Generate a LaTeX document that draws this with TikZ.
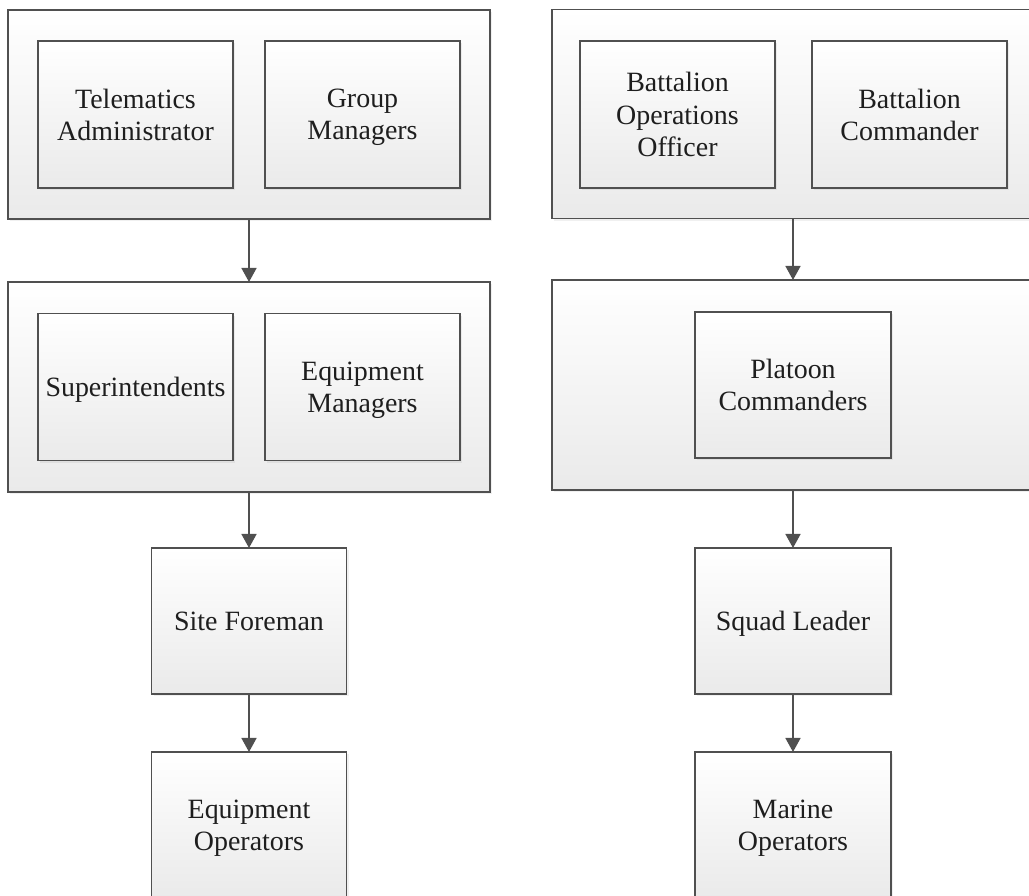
\documentclass[tikz,border=0pt]{standalone}
\usepackage{fontspec}
\setmainfont{Liberation Serif}
\usetikzlibrary{arrows.meta,shadows}
\definecolor{edgegray}{HTML}{505050}
\definecolor{boxbottom}{HTML}{EAEAEA}
\definecolor{txt}{HTML}{1E1E1E}
\tikzset{
  base/.style={rectangle, draw=edgegray, line width=1.1pt, top color=white, bottom color=boxbottom,
    drop shadow={opacity=0.12, shadow xshift=1.2pt, shadow yshift=-1.2pt},
    inner sep=0pt, outer sep=0pt, text=txt, align=center,
    font=\fontsize{15.9}{18.4}\selectfont,
    execute at begin node={\rule{0pt}{0.69em}}, text depth=0pt},
  container/.style={base, minimum width=482*0.02cm, minimum height=209*0.02cm},
  role/.style={base, minimum width=195*0.02cm, minimum height=147*0.02cm},
  link/.style={draw=edgegray, line width=1.1pt, -{Triangle[width=8.5pt,length=8pt]}}
}
\begin{document}
\begin{tikzpicture}[x=0.02cm, y=-0.02cm]
\useasboundingbox (0,0) rectangle (1029,896);
\clip (0,0) rectangle (1029,896);
% left column
\node[container] (tc) at (249,114.5) {};
\node[role] (tel) at (135.5,114.5) {Telematics\\Administrator};
\node[role] (gm) at (362.5,114.5) {Group\\Managers};
\node[container, minimum height=210*0.02cm] (sc) at (249,387) {};
\node[role] (sup) at (135.5,387) {Superintendents};
\node[role] (em) at (362.5,387) {Equipment\\Managers};
\node[role, minimum height=146*0.02cm] (sf) at (249,621) {Site Foreman};
\node[role, minimum height=146*0.02cm] (eo) at (249,825) {Equipment\\Operators};
% right column
\node[container] (rc) at (793,114) {};
\node[role] (boo) at (677.5,114.5) {Battalion\\Operations\\Officer};
\node[role] (bc) at (909.5,114.5) {Battalion\\Commander};
\node[container, minimum height=210*0.02cm] (pc) at (793,385) {};
\node[role, minimum width=196*0.02cm, minimum height=146*0.02cm] (plc) at (793,385) {Platoon\\Commanders};
\node[role, minimum width=196*0.02cm, minimum height=146*0.02cm] (sl) at (793,621) {Squad Leader};
\node[role, minimum width=196*0.02cm, minimum height=146*0.02cm] (mo) at (793,825) {Marine\\Operators};
% connectors
\draw[link] (tc.south) -- (sc.north);
\draw[link] (sc.south) -- (sf.north);
\draw[link] (sf.south) -- (eo.north);
\draw[link] (rc.south) -- (pc.north);
\draw[link] (pc.south) -- (sl.north);
\draw[link] (sl.south) -- (mo.north);
\end{tikzpicture}
\end{document}
